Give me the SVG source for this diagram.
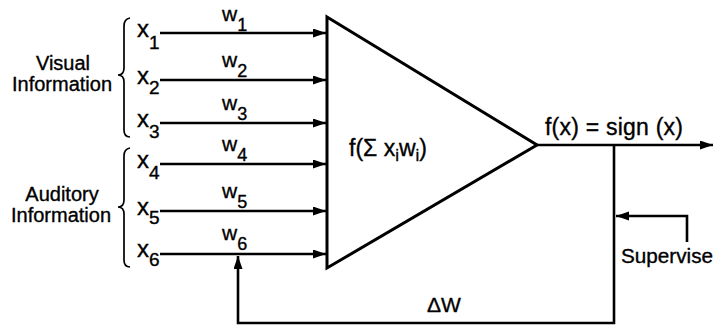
<svg xmlns="http://www.w3.org/2000/svg" width="715" height="326" viewBox="0 0 715 326">
<style>
text{font-family:"Liberation Sans",Arial,sans-serif;fill:#000;stroke:#000;stroke-width:0.35}
.lbl{font-size:20px}
.var{font-size:24px}
.vsub{font-size:19px}
.wl{font-size:21px}
.wsub{font-size:18px}
.sub{font-size:17px}
.ln{stroke:#000;stroke-width:2.6;fill:none}
.br{stroke:#000;stroke-width:1.7;fill:none}
</style>
<defs>
<marker id="ah" markerUnits="userSpaceOnUse" markerWidth="14" markerHeight="10" refX="13" refY="4.5" orient="auto">
<path d="M0,0 L13,4.5 L0,9 z" fill="#000"/>
</marker>
</defs>
<rect width="715" height="326" fill="#fff"/>
<g id="visual-group">
<path class="br" d="M130,18 Q124,19 124,26 L124,68 Q124,75 118,75 Q124,75 124,82 L124,130 Q124,137 130,137"/>
<text class="lbl" x="63" y="70" text-anchor="middle">Visual</text>
<text class="lbl" x="62" y="91" text-anchor="middle">Information</text>
</g>
<g id="auditory-group">
<path class="br" d="M130,148 Q124,149 124,156 L124,200 Q124,207 118,207 Q124,207 124,214 L124,260 Q124,267 130,267"/>
<text class="lbl" x="62" y="201" text-anchor="middle">Auditory</text>
<text class="lbl" x="61" y="222" text-anchor="middle">Information</text>
</g>
<g id="inputs">
<text class="var" x="137" y="37">x<tspan class="vsub" dy="12">1</tspan></text>
<text class="var" x="137" y="84">x<tspan class="vsub" dy="10">2</tspan></text>
<text class="var" x="137" y="127">x<tspan class="vsub" dy="11">3</tspan></text>
<text class="var" x="137" y="168">x<tspan class="vsub" dy="11">4</tspan></text>
<text class="var" x="137" y="215">x<tspan class="vsub" dy="9">5</tspan></text>
<text class="var" x="137" y="257">x<tspan class="vsub" dy="9">6</tspan></text>
</g>
<g id="weights">
<text class="wl" x="222" y="21">w<tspan class="wsub" dy="10">1</tspan></text>
<text class="wl" x="222" y="67">w<tspan class="wsub" dy="10">2</tspan></text>
<text class="wl" x="222" y="110">w<tspan class="wsub" dy="10">3</tspan></text>
<text class="wl" x="222" y="151">w<tspan class="wsub" dy="10">4</tspan></text>
<text class="wl" x="222" y="198">w<tspan class="wsub" dy="10">5</tspan></text>
<text class="wl" x="222" y="240">w<tspan class="wsub" dy="10">6</tspan></text>
</g>
<g id="neuron">
<polygon points="327,17 537,145 327,268" fill="none" stroke="#000" stroke-width="3" stroke-linejoin="miter"/>
<text x="349" y="156" style="font-size:23px">f(Σ x<tspan class="sub" dy="5">i</tspan><tspan dy="-5">w</tspan><tspan class="sub" dy="5">i</tspan><tspan dy="-5">)</tspan></text>
</g>
<g id="output-label">
<text x="545" y="135" style="font-size:23px" textLength="138" lengthAdjust="spacing">f(x) = sign (x)</text>
</g>
<g id="supervise">
<text class="lbl" x="621" y="263" textLength="92" lengthAdjust="spacingAndGlyphs">Supervise</text>
</g>
<g id="delta">
<text x="427" y="312" style="font-size:21px">ΔW</text>
</g>
<g id="connectors">
<line class="ln" x1="160" y1="33" x2="326" y2="33" marker-end="url(#ah)"/>
<line class="ln" x1="160" y1="80" x2="326" y2="80" marker-end="url(#ah)"/>
<line class="ln" x1="160" y1="123" x2="326" y2="123" marker-end="url(#ah)"/>
<line class="ln" x1="160" y1="164" x2="326" y2="164" marker-end="url(#ah)"/>
<line class="ln" x1="160" y1="211" x2="326" y2="211" marker-end="url(#ah)"/>
<line class="ln" x1="160" y1="254" x2="326" y2="254" marker-end="url(#ah)"/>
<line class="ln" x1="537" y1="145" x2="713" y2="145" marker-end="url(#ah)"/>
<polyline class="ln" points="614,145 614,323 238,323 238,256" marker-end="url(#ah)"/>
<polyline class="ln" points="687,242 687,216 616,216" marker-end="url(#ah)"/>
</g>
</svg>
